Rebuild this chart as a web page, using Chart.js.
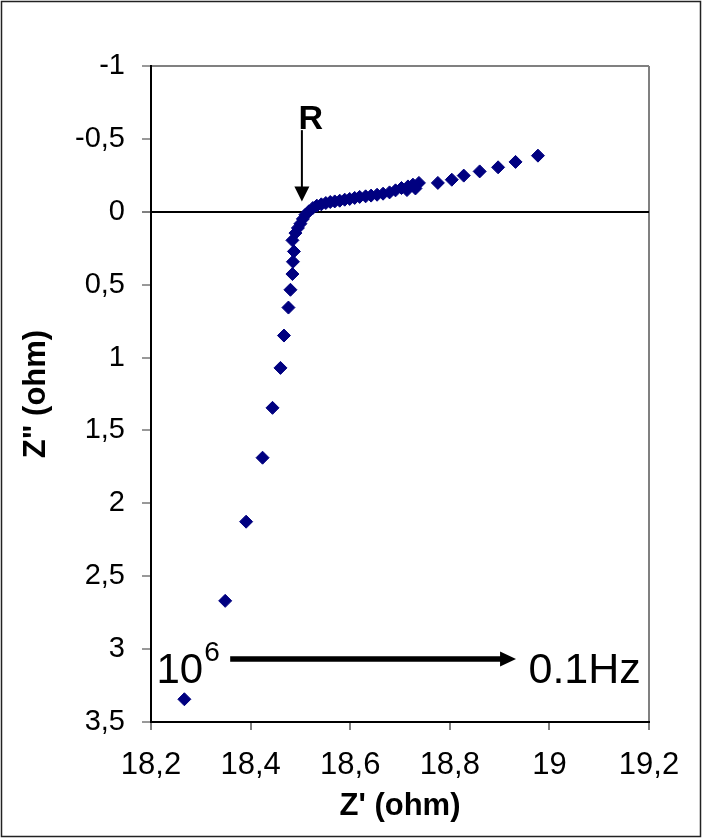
<!DOCTYPE html>
<html>
<head>
<meta charset="utf-8">
<script src="https://cdn.jsdelivr.net/npm/chart.js@4/dist/chart.umd.min.js"></script>
<style>
  html, body { margin: 0; padding: 0; background: #fff; }
  canvas { display: block; }
</style>
</head>
<body>
<canvas id="c" width="702" height="839"></canvas>
<script>
// ---- data (Nyquist plot) ----
const zReal = [18.267, 18.349, 18.391, 18.424, 18.444, 18.460, 18.467, 18.476, 18.480, 18.484,
               18.485, 18.487, 18.484, 18.490, 18.495, 18.500, 18.505, 18.510, 18.517, 18.525,
               18.533, 18.542, 18.551, 18.560, 18.569, 18.579, 18.589, 18.599, 18.609, 18.619,
               18.631, 18.642, 18.654, 18.666, 18.679, 18.691, 18.703, 18.714, 18.716, 18.726,
               18.731, 18.738, 18.776, 18.804, 18.828, 18.860, 18.897, 18.932, 18.977];
const zImag = [3.344, 2.669, 2.126, 1.687, 1.345, 1.071, 0.849, 0.657, 0.535, 0.427,
               0.343, 0.272, 0.196, 0.146, 0.111, 0.082, 0.049, 0.020, -0.003, -0.026,
               -0.042, -0.051, -0.060, -0.067, -0.071, -0.076, -0.083, -0.088, -0.095, -0.102,
               -0.106, -0.111, -0.117, -0.124, -0.133, -0.147, -0.163, -0.149, -0.174, -0.186,
               -0.160, -0.198, -0.198, -0.220, -0.248, -0.277, -0.305, -0.342, -0.385];
const xTitle = "Z' (ohm)";
const yTitle = 'Z" (ohm)';
const xRange = [18.2, 19.2];
const yRange = [-1, 3.5];

const points = zReal.map((x, i) => ({ x: x, y: zImag[i] }));
const fmt = v => String(Math.round(v * 10) / 10).replace('.', ',');
const FONT = "'Liberation Sans', Arial, sans-serif";

const decor = {
  id: 'decor',
  beforeDraw(chart) {
    const ctx = chart.ctx;
    ctx.save();
    ctx.fillStyle = '#fff';
    ctx.fillRect(0, 0, chart.width, chart.height);
    ctx.restore();
  },
  afterDraw(chart) {
    const ctx = chart.ctx;
    const xs = chart.scales.x, ys = chart.scales.y;
    ctx.save();
    // outer frame
    ctx.strokeStyle = '#222';
    ctx.lineWidth = 1.5;
    ctx.strokeRect(1.5, 1.5, chart.width - 3, chart.height - 4);

    // "R" marker with down arrow
    const rx = xs.getPixelForValue(18.503);
    const rTop = ys.getPixelForValue(-0.56);
    const rTip = ys.getPixelForValue(-0.07);
    ctx.strokeStyle = '#000';
    ctx.fillStyle = '#000';
    ctx.lineWidth = 2;
    ctx.beginPath();
    ctx.moveTo(rx, rTop);
    ctx.lineTo(rx, rTip - 12);
    ctx.stroke();
    ctx.beginPath();
    ctx.moveTo(rx - 7.5, rTip - 15);
    ctx.lineTo(rx + 7.5, rTip - 15);
    ctx.lineTo(rx, rTip);
    ctx.closePath();
    ctx.fill();
    ctx.font = 'bold 34px ' + FONT;
    ctx.textAlign = 'center';
    ctx.textBaseline = 'alphabetic';
    ctx.fillText('R', rx + 9, ys.getPixelForValue(-0.56) - 1);

    // frequency direction arrow
    const ay = ys.getPixelForValue(3.068);
    const ax0 = xs.getPixelForValue(18.359);
    const ax1 = xs.getPixelForValue(18.933);
    ctx.lineWidth = 5.5;
    ctx.beginPath();
    ctx.moveTo(ax0, ay);
    ctx.lineTo(ax1 - 12, ay);
    ctx.stroke();
    ctx.beginPath();
    ctx.moveTo(ax1 - 16, ay - 7.5);
    ctx.lineTo(ax1, ay);
    ctx.lineTo(ax1 - 16, ay + 7.5);
    ctx.closePath();
    ctx.fill();

    const base = ys.getPixelForValue(3.23);
    ctx.textAlign = 'left';
    ctx.font = '42px ' + FONT;
    const x10 = xs.getPixelForValue(18.211);
    ctx.fillText('10', x10, base);
    const w10 = ctx.measureText('10').width;
    ctx.font = '28px ' + FONT;
    ctx.fillText('6', x10 + w10 + 1, base - 22);
    ctx.font = '43px ' + FONT;
    ctx.fillText('0.1Hz', xs.getPixelForValue(18.958), base);
    ctx.restore();
  }
};

new Chart(document.getElementById('c'), {
  type: 'scatter',
  data: {
    datasets: [{
      data: points,
      pointStyle: 'rectRot',
      pointRadius: 6.5,
      pointHoverRadius: 6.5,
      borderWidth: 1,
      backgroundColor: '#000080',
      borderColor: '#000080',
      showLine: false
    }]
  },
  options: {
    responsive: false,
    animation: false,
    events: [],
    layout: { padding: { left: 0, top: 66, right: 53, bottom: 0 } },
    plugins: { legend: { display: false }, tooltip: { enabled: false } },
    scales: {
      x: {
        type: 'linear',
        min: xRange[0], max: xRange[1],
        afterFit(s) { s.height = 117; },
        ticks: {
          stepSize: 0.2,
          color: '#000',
          font: { family: FONT, size: 31 },
          padding: 17,
          callback: v => fmt(v)
        },
        grid: {
          drawOnChartArea: true,
          color: c => (Math.abs(c.tick.value - xRange[1]) < 1e-6 ? '#808080' : 'rgba(0,0,0,0)'),
          lineWidth: 2,
          tickColor: '#000',
          tickLength: 8,
          tickWidth: 1
        },
        border: { display: true, color: '#000', width: 2 },
        title: {
          display: true, text: xTitle, color: '#000',
          font: { family: FONT, size: 31, weight: 'bold' },
          padding: { top: 0, bottom: 14 }
        }
      },
      y: {
        type: 'linear',
        reverse: true,
        min: yRange[0], max: yRange[1],
        afterFit(s) { s.width = 151; },
        ticks: {
          stepSize: 0.5,
          color: '#000',
          font: { family: FONT, size: 29 },
          padding: 17,
          callback: v => fmt(v)
        },
        grid: {
          color: c => {
            const v = c.tick.value;
            if (Math.abs(v) < 1e-6) return '#000';
            if (Math.abs(v - yRange[0]) < 1e-6) return '#808080';
            return 'rgba(0,0,0,0)';
          },
          lineWidth: 2,
          tickColor: c => (Math.abs(c.tick.value) < 1e-6 ? '#000' : '#333'),
          tickLength: 9,
          tickWidth: 1
        },
        border: { display: true, color: '#000', width: 2 },
        title: {
          display: true, text: yTitle, color: '#000',
          font: { family: FONT, size: 31, weight: 'bold' },
          padding: { top: 18, bottom: 0 }
        }
      }
    }
  },
  plugins: [decor]
});
</script>
</body>
</html>
